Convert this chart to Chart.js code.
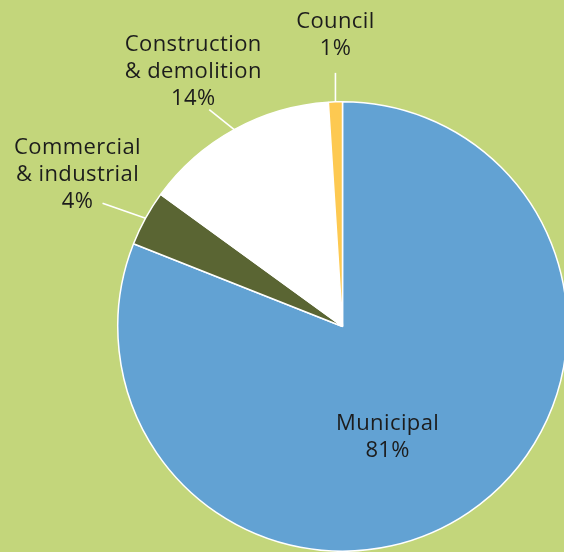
<!DOCTYPE html>
<html>
<head>
<meta charset="utf-8">
<script src="https://cdn.jsdelivr.net/npm/chart.js@4"></script>
<style>
  html, body { margin: 0; padding: 0; background: #c3d67b; overflow: hidden; }
  #wrap { position: relative; width: 570px; height: 552px; }
</style>
</head>
<body>
<div id="wrap"><canvas id="chart" width="570" height="552"></canvas></div>
<script>
// Waste sources, share of total (%)
const categories = ['Municipal', 'Commercial\n& industrial', 'Construction\n& demolition', 'Council'];
const shares = [81, 4, 14, 1];
const sliceColors = ['#62a2d3', '#5a6533', '#ffffff', '#fdc951'];

// Label placement, relative to each slice's outer edge (or an inner anchor)
const labelPlacement = [
  { inside: 0.5, dx: -18, dy: 4 },
  { leader: [-43, -15], dx: -25, dy: -55 },
  { leader: [-25, -20], dx: -16, dy: -65 },
  { leader: [0, -29], dx: 0, dy: -51 }
];

const sliceLabels = {
  id: 'sliceLabels',
  afterDatasetsDraw(chart) {
    const ctx = chart.ctx;
    const meta = chart.getDatasetMeta(0);
    ctx.save();
    ctx.font = '22px "Open Sans"';
    ctx.letterSpacing = '0.4px';
    ctx.fillStyle = '#1c1c1c';
    ctx.textAlign = 'center';
    ctx.textBaseline = 'middle';
    meta.data.forEach((arc, i) => {
      const p = arc.getProps(['x', 'y', 'startAngle', 'endAngle', 'outerRadius'], true);
      const mid = (p.startAngle + p.endAngle) / 2;
      const cfg = labelPlacement[i];
      let ax, ay;
      if (cfg.inside) {
        ax = p.x + Math.cos(mid) * p.outerRadius * cfg.inside;
        ay = p.y + Math.sin(mid) * p.outerRadius * cfg.inside;
      } else {
        const ex = p.x + Math.cos(mid) * p.outerRadius;
        const ey = p.y + Math.sin(mid) * p.outerRadius;
        ax = ex + cfg.leader[0];
        ay = ey + cfg.leader[1];
        ctx.beginPath();
        ctx.strokeStyle = '#ffffff';
        ctx.lineWidth = 1.6;
        ctx.moveTo(ex, ey);
        ctx.lineTo(ax, ay);
        ctx.stroke();
      }
      const lines = categories[i].split('\n').concat([shares[i] + '%']);
      lines.forEach((t, k) => {
        ctx.fillText(t, ax + cfg.dx, ay + cfg.dy + k * 27);
      });
    });
    ctx.restore();
  }
};

new Chart(document.getElementById('chart'), {
  type: 'pie',
  data: {
    labels: categories,
    datasets: [{
      data: shares,
      backgroundColor: sliceColors,
      borderColor: '#ffffff',
      borderWidth: 1.5
    }]
  },
  options: {
    responsive: false,
    animation: false,
    layout: { padding: { top: 101, bottom: -2, left: 116, right: 1 } },
    plugins: { legend: { display: false }, tooltip: { enabled: false } }
  },
  plugins: [sliceLabels]
});
</script>
</body>
</html>
